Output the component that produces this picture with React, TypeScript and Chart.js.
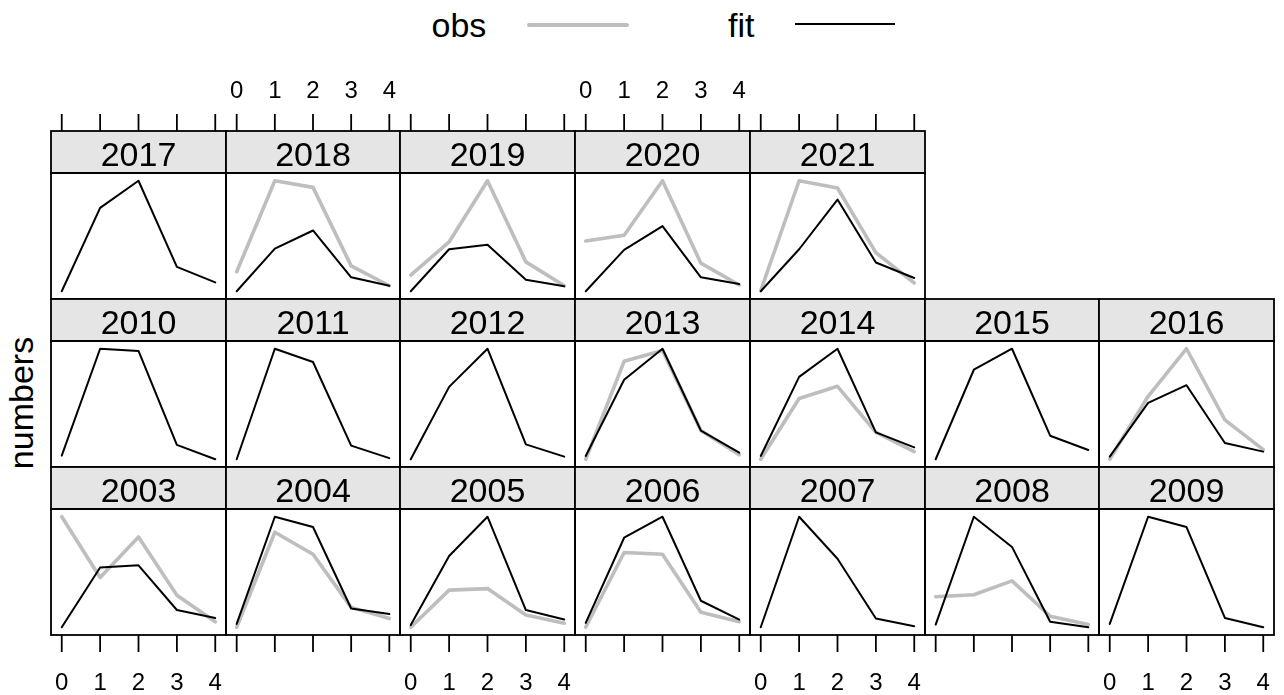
import React, { useEffect, useRef } from "react";
import { Chart, registerables } from "chart.js";

Chart.register(...registerables);

// ---- data (relative numbers per panel) ----
const ages = [0, 1, 2, 3, 4];
const tickLabels = ["0", "1", "2", "3", "4"];

const fit2003 = [0, 54, 56, 15.6, 8.4];
const obs2003 = [100, 45, 81.7, 29, 5];
const fit2004 = [3, 100, 90.7, 17, 12];
const obs2004 = [0, 86, 66, 18, 8];
const fit2005 = [2, 64.5, 100, 15.6, 7];
const obs2005 = [0, 33.6, 35, 11, 3.6];
const fit2006 = [4, 81, 100, 24, 7];
const obs2006 = [0, 67.6, 66, 13.5, 5];
const fit2007 = [0, 100, 62, 8, 1];
const fit2008 = [2.4, 100, 72.7, 5, 0];
const obs2008 = [27.6, 29.4, 42, 10, 2.4];
const fit2009 = [3, 100, 90.7, 8.4, 0];

const fit2010 = [3.3, 100, 98, 13, 0];
const fit2011 = [0, 100, 88, 12.3, 1];
const fit2012 = [0, 65.5, 100, 13.5, 2.4];
const fit2013 = [3, 72, 100, 26, 6];
const obs2013 = [0, 88.6, 98.5, 26, 4];
const fit2014 = [3, 74.5, 100, 24.3, 10.8];
const obs2014 = [0, 55, 66, 24.3, 7];
const fit2015 = [0, 81, 100, 21.3, 8.4];
const fit2016 = [2.4, 51, 67, 14.7, 6.9];
const obs2016 = [0, 57, 100, 35.7, 8.7];

const fit2017 = [0, 75.5, 100, 22, 8];
const fit2018 = [0, 38.6, 55, 12.6, 5];
const obs2018 = [17.7, 100, 94, 23, 5];
const fit2019 = [0, 38, 42, 10.5, 4.5];
const obs2019 = [14.7, 44.6, 100, 26.6, 5];
const fit2020 = [0, 37.4, 59, 12.6, 6.6];
const obs2020 = [45.5, 50.6, 100, 25.4, 5.7];
const fit2021 = [0, 38, 83, 26, 12];
const obs2021 = [0.6, 100, 93.4, 35, 7.5];

type PanelDef = {
  year: number;
  row: number;
  col: number;
  fit: number[];
  obs: number[] | null;
};

const panels: PanelDef[] = [
  { year: 2017, row: 0, col: 0, fit: fit2017, obs: null },
  { year: 2018, row: 0, col: 1, fit: fit2018, obs: obs2018 },
  { year: 2019, row: 0, col: 2, fit: fit2019, obs: obs2019 },
  { year: 2020, row: 0, col: 3, fit: fit2020, obs: obs2020 },
  { year: 2021, row: 0, col: 4, fit: fit2021, obs: obs2021 },
  { year: 2010, row: 1, col: 0, fit: fit2010, obs: null },
  { year: 2011, row: 1, col: 1, fit: fit2011, obs: null },
  { year: 2012, row: 1, col: 2, fit: fit2012, obs: null },
  { year: 2013, row: 1, col: 3, fit: fit2013, obs: obs2013 },
  { year: 2014, row: 1, col: 4, fit: fit2014, obs: obs2014 },
  { year: 2015, row: 1, col: 5, fit: fit2015, obs: null },
  { year: 2016, row: 1, col: 6, fit: fit2016, obs: obs2016 },
  { year: 2003, row: 2, col: 0, fit: fit2003, obs: obs2003 },
  { year: 2004, row: 2, col: 1, fit: fit2004, obs: obs2004 },
  { year: 2005, row: 2, col: 2, fit: fit2005, obs: obs2005 },
  { year: 2006, row: 2, col: 3, fit: fit2006, obs: obs2006 },
  { year: 2007, row: 2, col: 4, fit: fit2007, obs: null },
  { year: 2008, row: 2, col: 5, fit: fit2008, obs: obs2008 },
  { year: 2009, row: 2, col: 6, fit: fit2009, obs: null },
];

// ---- layout ----
const COL_X = Array.from({ length: 8 }, (_, i) => Math.round(50.8 + 174.75 * i));
const STRIP_TOP = [131, 299, 467];
const STRIP_H = 42;
const PLOT_H = 126;
const ABOVE = 70;
const BELOW = 60;
const PADX = 2;
const FONT = '"Liberation Sans", Arial, Helvetica, sans-serif';

function Panel({ p }: { p: PanelDef }) {
  const ref = useRef<HTMLCanvasElement>(null);
  const left = COL_X[p.col] - PADX;
  const width = COL_X[p.col + 1] - COL_X[p.col] + 2 * PADX;
  const top = STRIP_TOP[p.row] - ABOVE;
  const height = ABOVE + STRIP_H + PLOT_H + BELOW;

  useEffect(() => {
    const all = [...p.fit, ...(p.obs || [])];
    const lo = Math.min(...all);
    const hi = Math.max(...all);
    const pad = 0.07 * (hi - lo);
    const datasets: any[] = [
      {
        label: "fit",
        data: ages.map((a, i) => ({ x: a, y: p.fit[i] })),
        borderColor: "#000000",
        borderWidth: 2,
        pointRadius: 0,
        tension: 0,
        fill: false,
        order: 0,
        borderCapStyle: "round",
        borderJoinStyle: "round",
      },
    ];
    if (p.obs) {
      const obs = p.obs;
      datasets.push({
        label: "obs",
        data: ages.map((a, i) => ({ x: a, y: obs[i] })),
        borderColor: "#BEBEBE",
        borderWidth: 3.6,
        pointRadius: 0,
        tension: 0,
        fill: false,
        order: 1,
        borderCapStyle: "round",
        borderJoinStyle: "round",
      });
    }
    const topTicks = p.row === 0;
    const topLabels = p.row === 0 && p.col % 2 === 1;
    const bottomTicks = p.row === 2;
    const bottomLabels = p.row === 2 && p.col % 2 === 0;

    const chart = new Chart(ref.current as HTMLCanvasElement, {
      type: "line",
      data: { datasets },
      options: {
        responsive: false,
        animation: false,
        devicePixelRatio: 1,
        events: [],
        layout: {
          padding: { top: ABOVE + STRIP_H, bottom: BELOW, left: PADX, right: PADX },
        },
        plugins: { legend: { display: false }, tooltip: { enabled: false }, title: { display: false } },
        scales: {
          x: { type: "linear", min: -0.28, max: 4.28, display: false },
          y: { type: "linear", min: lo - pad, max: hi + pad, display: false },
        },
      } as any,
      plugins: [
        {
          id: "latticePanel",
          afterDraw(c: any) {
            const { ctx, chartArea } = c;
            const { left: l, right: r, top: t, bottom: b } = chartArea;
            const xs = c.scales.x;
            const sTop = t - STRIP_H;
            ctx.save();
            ctx.fillStyle = "#E5E5E5";
            ctx.fillRect(l, sTop, r - l, STRIP_H);
            ctx.strokeStyle = "#000000";
            ctx.lineWidth = 1.8;
            ctx.strokeRect(l, sTop, r - l, STRIP_H);
            ctx.strokeRect(l, t, r - l, b - t);
            ctx.fillStyle = "#000000";
            ctx.textAlign = "center";
            ctx.textBaseline = "alphabetic";
            ctx.font = `34px ${FONT}`;
            ctx.fillText(String(p.year), (l + r) / 2, sTop + 34.5);
            ctx.font = `24px ${FONT}`;
            ages.forEach((a, i) => {
              const px = xs.getPixelForValue(a);
              if (topTicks) {
                ctx.beginPath();
                ctx.moveTo(px, sTop - 17);
                ctx.lineTo(px, sTop);
                ctx.stroke();
              }
              if (topLabels) ctx.fillText(tickLabels[i], px, sTop - 32.7);
              if (bottomTicks) {
                ctx.beginPath();
                ctx.moveTo(px, b);
                ctx.lineTo(px, b + 17);
                ctx.stroke();
              }
              if (bottomLabels) ctx.fillText(tickLabels[i], px, b + 55);
            });
            ctx.restore();
          },
        },
      ],
    });
    return () => chart.destroy();
  }, []);

  return (
    <canvas
      ref={ref}
      width={width}
      height={height}
      style={{ position: "absolute", left, top, width, height }}
    />
  );
}

export default function App() {
  const text: React.CSSProperties = {
    position: "absolute",
    fontFamily: FONT,
    fontSize: 34,
    lineHeight: "34px",
    color: "#000",
    whiteSpace: "nowrap",
  };
  return (
    <div
      style={{
        position: "fixed",
        left: 0,
        top: 0,
        width: 1284,
        height: 695,
        background: "#ffffff",
        overflow: "hidden",
      }}
    >
      <span style={{ ...text, left: 431.5, top: 7.7 }}>obs</span>
      <div
        style={{
          position: "absolute",
          left: 527,
          top: 23.2,
          width: 102,
          height: 3.6,
          background: "#BEBEBE",
          borderRadius: 2,
        }}
      />
      <span style={{ ...text, left: 728, top: 7.7 }}>fit</span>
      <div
        style={{
          position: "absolute",
          left: 795,
          top: 23.3,
          width: 100,
          height: 2,
          background: "#000",
        }}
      />
      <div
        style={{
          ...text,
          left: 21,
          top: 403,
          transform: "translate(-50%, -50%) rotate(-90deg)",
        }}
      >
        numbers
      </div>
      {panels.map((p) => (
        <Panel key={p.year} p={p} />
      ))}
    </div>
  );
}
